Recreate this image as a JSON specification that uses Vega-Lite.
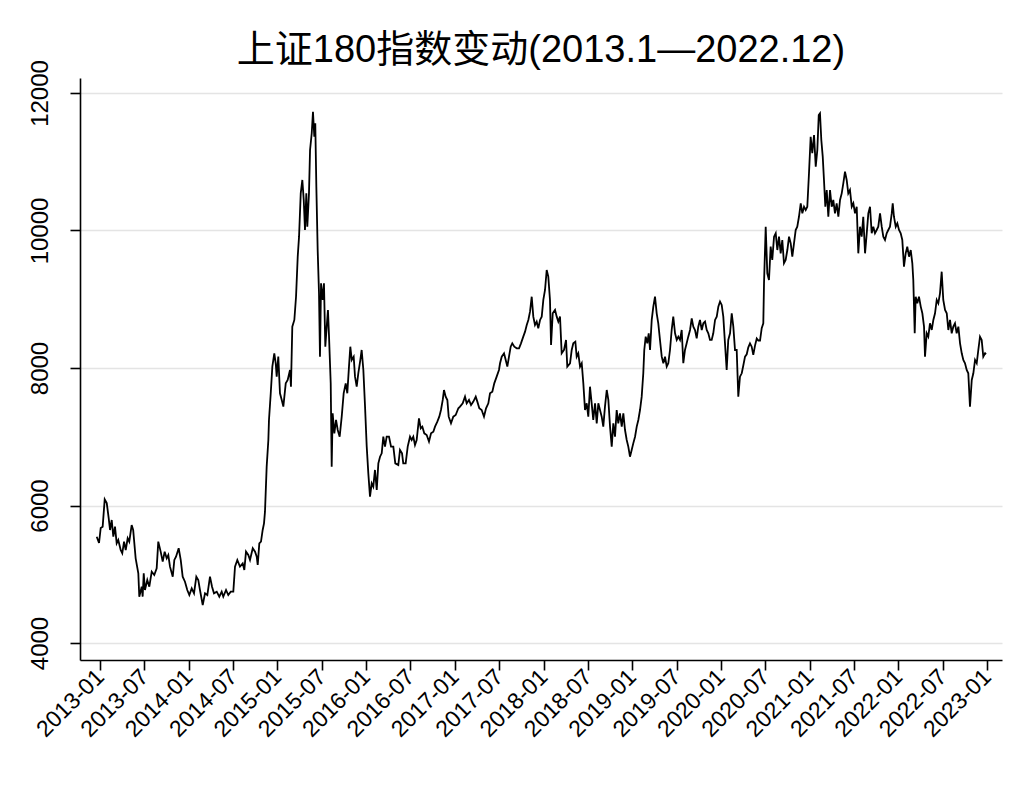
{
  "$schema": "https://vega.github.io/schema/vega-lite/v6.json",
  "width": 922,
  "height": 582,
  "autosize": {"type": "none"},
  "padding": {"left": 80, "top": 78, "right": 30, "bottom": 131},
  "background": "white",
  "title": {
    "text": "上证180指数变动(2013.1—2022.12)",
    "font": "Liberation Sans, Noto Sans CJK SC",
    "fontSize": 38,
    "fontWeight": "normal",
    "color": "#000000",
    "anchor": "middle",
    "frame": "group",
    "offset": -10
  },
  "config": {
    "view": {"stroke": null},
    "axis": {
      "labelFont": "Liberation Sans",
      "labelColor": "#000000",
      "domainColor": "#000000",
      "domainWidth": 1.6,
      "tickColor": "#000000",
      "tickWidth": 1.6,
      "tickSize": 10,
      "gridColor": "#e4e4e4",
      "gridWidth": 1.6,
      "title": null
    }
  },
  "data": {
    "values": [
      {"t":2012.963,"v":5546},{"t":2012.989,"v":5455},{"t":2013.008,"v":5673},{"t":2013.030,"v":5692},{"t":2013.053,"v":6090},{"t":2013.076,"v":6036},{"t":2013.098,"v":5818},{"t":2013.113,"v":5644},{"t":2013.132,"v":5789},{"t":2013.150,"v":5546},{"t":2013.169,"v":5692},{"t":2013.188,"v":5450},{"t":2013.206,"v":5498},{"t":2013.233,"v":5353},{"t":2013.251,"v":5305},{"t":2013.271,"v":5475},{"t":2013.290,"v":5353},{"t":2013.312,"v":5523},{"t":2013.330,"v":5475},{"t":2013.357,"v":5716},{"t":2013.374,"v":5644},{"t":2013.402,"v":5232},{"t":2013.432,"v":5014},{"t":2013.443,"v":4674},{"t":2013.470,"v":4819},{"t":2013.481,"v":4674},{"t":2013.493,"v":5014},{"t":2013.507,"v":4771},{"t":2013.533,"v":4917},{"t":2013.556,"v":4819},{"t":2013.583,"v":5038},{"t":2013.612,"v":4990},{"t":2013.639,"v":5087},{"t":2013.657,"v":5475},{"t":2013.684,"v":5329},{"t":2013.707,"v":5183},{"t":2013.729,"v":5329},{"t":2013.752,"v":5232},{"t":2013.770,"v":5280},{"t":2013.789,"v":5111},{"t":2013.820,"v":4965},{"t":2013.838,"v":5208},{"t":2013.857,"v":5256},{"t":2013.887,"v":5378},{"t":2013.910,"v":5208},{"t":2013.932,"v":4965},{"t":2013.958,"v":4892},{"t":2013.984,"v":4771},
      {"t":2014.007,"v":4698},{"t":2014.034,"v":4795},{"t":2014.060,"v":4723},{"t":2014.086,"v":4965},{"t":2014.108,"v":4917},{"t":2014.127,"v":4771},{"t":2014.158,"v":4553},{"t":2014.184,"v":4723},{"t":2014.210,"v":4698},{"t":2014.240,"v":4965},{"t":2014.263,"v":4819},{"t":2014.285,"v":4723},{"t":2014.316,"v":4747},{"t":2014.345,"v":4674},{"t":2014.372,"v":4747},{"t":2014.390,"v":4674},{"t":2014.421,"v":4771},{"t":2014.446,"v":4698},{"t":2014.474,"v":4747},{"t":2014.503,"v":4747},{"t":2014.522,"v":5111},{"t":2014.548,"v":5208},{"t":2014.578,"v":5111},{"t":2014.609,"v":5159},{"t":2014.627,"v":5062},{"t":2014.646,"v":5329},{"t":2014.672,"v":5280},{"t":2014.691,"v":5208},{"t":2014.722,"v":5378},{"t":2014.748,"v":5329},{"t":2014.767,"v":5256},{"t":2014.778,"v":5135},{"t":2014.796,"v":5450},{"t":2014.815,"v":5475},{"t":2014.834,"v":5644},{"t":2014.849,"v":5741},{"t":2014.860,"v":5910},{"t":2014.879,"v":6565},{"t":2014.898,"v":6953},{"t":2014.905,"v":7244},{"t":2014.925,"v":7632},{"t":2014.943,"v":8020},{"t":2014.965,"v":8214},{"t":2014.981,"v":8069},{"t":2014.992,"v":7874},
      {"t":2015.010,"v":8165},{"t":2015.029,"v":7632},{"t":2015.049,"v":7535},{"t":2015.067,"v":7438},{"t":2015.094,"v":7777},{"t":2015.116,"v":7826},{"t":2015.142,"v":7971},{"t":2015.153,"v":7728},{"t":2015.168,"v":8601},{"t":2015.191,"v":8699},{"t":2015.210,"v":9037},{"t":2015.229,"v":9619},{"t":2015.244,"v":9910},{"t":2015.263,"v":10540},{"t":2015.281,"v":10735},{"t":2015.297,"v":10444},{"t":2015.311,"v":10007},{"t":2015.326,"v":10540},{"t":2015.337,"v":10055},{"t":2015.356,"v":10540},{"t":2015.368,"v":11171},{"t":2015.387,"v":11414},{"t":2015.401,"v":11728},{"t":2015.416,"v":11364},{"t":2015.427,"v":11559},{"t":2015.439,"v":10637},{"t":2015.454,"v":9716},{"t":2015.469,"v":9086},{"t":2015.480,"v":8165},{"t":2015.492,"v":9232},{"t":2015.511,"v":8990},{"t":2015.525,"v":9232},{"t":2015.540,"v":8310},{"t":2015.556,"v":8601},{"t":2015.570,"v":8844},{"t":2015.582,"v":8456},{"t":2015.601,"v":7777},{"t":2015.612,"v":6565},{"t":2015.623,"v":7341},{"t":2015.642,"v":7050},{"t":2015.661,"v":7244},{"t":2015.680,"v":7098},{"t":2015.702,"v":7001},{"t":2015.725,"v":7292},{"t":2015.747,"v":7632},{"t":2015.770,"v":7777},{"t":2015.788,"v":7632},{"t":2015.807,"v":8020},{"t":2015.822,"v":8310},{"t":2015.838,"v":8117},{"t":2015.860,"v":8165},{"t":2015.875,"v":7874},{"t":2015.894,"v":7728},{"t":2015.912,"v":7923},{"t":2015.935,"v":8117},{"t":2015.950,"v":8262},{"t":2015.969,"v":7971},{"t":2015.988,"v":7438},
      {"t":2016.007,"v":6856},{"t":2016.025,"v":6468},{"t":2016.044,"v":6129},{"t":2016.063,"v":6323},{"t":2016.081,"v":6274},{"t":2016.100,"v":6517},{"t":2016.120,"v":6226},{"t":2016.138,"v":6613},{"t":2016.157,"v":6710},{"t":2016.176,"v":6759},{"t":2016.194,"v":7001},{"t":2016.213,"v":6856},{"t":2016.232,"v":7001},{"t":2016.258,"v":7001},{"t":2016.281,"v":6856},{"t":2016.307,"v":6856},{"t":2016.329,"v":6613},{"t":2016.363,"v":6589},{"t":2016.382,"v":6808},{"t":2016.405,"v":6759},{"t":2016.419,"v":6613},{"t":2016.446,"v":6613},{"t":2016.469,"v":6856},{"t":2016.495,"v":7001},{"t":2016.514,"v":6953},{"t":2016.532,"v":7001},{"t":2016.551,"v":6880},{"t":2016.570,"v":6953},{"t":2016.596,"v":7268},{"t":2016.616,"v":7123},{"t":2016.634,"v":7147},{"t":2016.656,"v":7050},{"t":2016.683,"v":7026},{"t":2016.709,"v":6929},{"t":2016.732,"v":7050},{"t":2016.758,"v":7074},{"t":2016.777,"v":7147},{"t":2016.803,"v":7220},{"t":2016.825,"v":7292},{"t":2016.844,"v":7389},{"t":2016.864,"v":7535},{"t":2016.878,"v":7680},{"t":2016.897,"v":7583},{"t":2016.916,"v":7535},{"t":2016.931,"v":7292},{"t":2016.957,"v":7195},{"t":2016.983,"v":7292},
      {"t":2017.010,"v":7316},{"t":2017.040,"v":7414},{"t":2017.059,"v":7438},{"t":2017.089,"v":7486},{"t":2017.115,"v":7583},{"t":2017.134,"v":7486},{"t":2017.160,"v":7535},{"t":2017.183,"v":7462},{"t":2017.209,"v":7511},{"t":2017.236,"v":7583},{"t":2017.254,"v":7511},{"t":2017.276,"v":7414},{"t":2017.303,"v":7389},{"t":2017.329,"v":7292},{"t":2017.352,"v":7414},{"t":2017.378,"v":7486},{"t":2017.397,"v":7632},{"t":2017.423,"v":7656},{"t":2017.445,"v":7777},{"t":2017.472,"v":7874},{"t":2017.498,"v":7971},{"t":2017.510,"v":8069},{"t":2017.529,"v":8165},{"t":2017.555,"v":8214},{"t":2017.574,"v":8117},{"t":2017.592,"v":8020},{"t":2017.611,"v":8165},{"t":2017.630,"v":8310},{"t":2017.648,"v":8359},{"t":2017.671,"v":8310},{"t":2017.698,"v":8286},{"t":2017.724,"v":8286},{"t":2017.746,"v":8359},{"t":2017.772,"v":8456},{"t":2017.792,"v":8529},{"t":2017.811,"v":8625},{"t":2017.829,"v":8699},{"t":2017.848,"v":8820},{"t":2017.867,"v":9037},{"t":2017.885,"v":8747},{"t":2017.904,"v":8625},{"t":2017.923,"v":8674},{"t":2017.941,"v":8577},{"t":2017.961,"v":8699},{"t":2017.980,"v":8747},{"t":2017.998,"v":8990},
      {"t":2018.017,"v":9135},{"t":2018.036,"v":9426},{"t":2018.054,"v":9329},{"t":2018.073,"v":8990},{"t":2018.085,"v":8335},{"t":2018.104,"v":8796},{"t":2018.130,"v":8844},{"t":2018.149,"v":8747},{"t":2018.167,"v":8674},{"t":2018.186,"v":8747},{"t":2018.205,"v":8214},{"t":2018.231,"v":8262},{"t":2018.254,"v":8408},{"t":2018.268,"v":8020},{"t":2018.299,"v":8069},{"t":2018.318,"v":8262},{"t":2018.336,"v":8359},{"t":2018.359,"v":8383},{"t":2018.374,"v":8165},{"t":2018.392,"v":8214},{"t":2018.412,"v":8020},{"t":2018.431,"v":8069},{"t":2018.449,"v":7777},{"t":2018.468,"v":7389},{"t":2018.487,"v":7486},{"t":2018.505,"v":7292},{"t":2018.524,"v":7728},{"t":2018.543,"v":7486},{"t":2018.561,"v":7244},{"t":2018.581,"v":7486},{"t":2018.600,"v":7195},{"t":2018.618,"v":7486},{"t":2018.637,"v":7389},{"t":2018.656,"v":7292},{"t":2018.674,"v":7147},{"t":2018.693,"v":7438},{"t":2018.713,"v":7680},{"t":2018.731,"v":7535},{"t":2018.750,"v":7147},{"t":2018.769,"v":6856},{"t":2018.787,"v":7195},{"t":2018.806,"v":7001},{"t":2018.825,"v":7389},{"t":2018.843,"v":7195},{"t":2018.862,"v":7341},{"t":2018.882,"v":7147},{"t":2018.900,"v":7341},{"t":2018.919,"v":7098},{"t":2018.938,"v":6953},{"t":2018.956,"v":6856},{"t":2018.975,"v":6710},{"t":2018.994,"v":6808},
      {"t":2019.012,"v":6904},{"t":2019.032,"v":7001},{"t":2019.051,"v":7147},{"t":2019.069,"v":7244},{"t":2019.088,"v":7389},{"t":2019.107,"v":7583},{"t":2019.125,"v":7923},{"t":2019.136,"v":8262},{"t":2019.152,"v":8456},{"t":2019.170,"v":8359},{"t":2019.186,"v":8505},{"t":2019.201,"v":8262},{"t":2019.220,"v":8699},{"t":2019.238,"v":8893},{"t":2019.257,"v":9037},{"t":2019.276,"v":8796},{"t":2019.294,"v":8650},{"t":2019.313,"v":8408},{"t":2019.333,"v":8165},{"t":2019.351,"v":8069},{"t":2019.370,"v":8165},{"t":2019.389,"v":8020},{"t":2019.407,"v":8069},{"t":2019.426,"v":8262},{"t":2019.445,"v":8553},{"t":2019.463,"v":8747},{"t":2019.483,"v":8505},{"t":2019.502,"v":8408},{"t":2019.520,"v":8456},{"t":2019.539,"v":8408},{"t":2019.558,"v":8553},{"t":2019.576,"v":8069},{"t":2019.595,"v":8262},{"t":2019.614,"v":8359},{"t":2019.632,"v":8456},{"t":2019.652,"v":8553},{"t":2019.671,"v":8723},{"t":2019.689,"v":8601},{"t":2019.708,"v":8553},{"t":2019.727,"v":8432},{"t":2019.745,"v":8601},{"t":2019.764,"v":8699},{"t":2019.784,"v":8553},{"t":2019.802,"v":8650},{"t":2019.821,"v":8674},{"t":2019.840,"v":8553},{"t":2019.858,"v":8505},{"t":2019.877,"v":8408},{"t":2019.896,"v":8408},{"t":2019.914,"v":8505},{"t":2019.934,"v":8699},{"t":2019.953,"v":8747},{"t":2019.971,"v":8893},{"t":2019.990,"v":8966},
      {"t":2020.009,"v":8917},{"t":2020.027,"v":8747},{"t":2020.046,"v":8359},{"t":2020.065,"v":7971},{"t":2020.083,"v":8408},{"t":2020.103,"v":8505},{"t":2020.122,"v":8796},{"t":2020.140,"v":8601},{"t":2020.159,"v":8262},{"t":2020.178,"v":8262},{"t":2020.196,"v":7583},{"t":2020.215,"v":7874},{"t":2020.235,"v":7923},{"t":2020.253,"v":8040},{"t":2020.272,"v":8165},{"t":2020.291,"v":8200},{"t":2020.309,"v":8300},{"t":2020.328,"v":8359},{"t":2020.347,"v":8310},{"t":2020.365,"v":8190},{"t":2020.385,"v":8330},{"t":2020.404,"v":8430},{"t":2020.422,"v":8400},{"t":2020.441,"v":8400},{"t":2020.460,"v":8580},{"t":2020.478,"v":8650},{"t":2020.486,"v":9232},{"t":2020.505,"v":10055},{"t":2020.523,"v":9377},{"t":2020.542,"v":9280},{"t":2020.561,"v":9765},{"t":2020.579,"v":9571},{"t":2020.599,"v":9910},{"t":2020.618,"v":9959},{"t":2020.636,"v":9716},{"t":2020.655,"v":9910},{"t":2020.674,"v":9668},{"t":2020.692,"v":9862},{"t":2020.711,"v":9523},{"t":2020.730,"v":9571},{"t":2020.749,"v":9716},{"t":2020.768,"v":9910},{"t":2020.787,"v":9813},{"t":2020.805,"v":9619},{"t":2020.824,"v":9813},{"t":2020.843,"v":10007},{"t":2020.861,"v":10055},{"t":2020.880,"v":10200},{"t":2020.900,"v":10395},{"t":2020.918,"v":10249},{"t":2020.937,"v":10346},{"t":2020.956,"v":10298},{"t":2020.974,"v":10346},{"t":2020.993,"v":10832},
      {"t":2021.012,"v":11364},{"t":2021.030,"v":11123},{"t":2021.050,"v":11389},{"t":2021.069,"v":10929},{"t":2021.087,"v":11171},{"t":2021.103,"v":11680},{"t":2021.117,"v":11705},{"t":2021.132,"v":11316},{"t":2021.148,"v":11074},{"t":2021.162,"v":10735},{"t":2021.177,"v":10346},{"t":2021.193,"v":10589},{"t":2021.211,"v":10200},{"t":2021.230,"v":10589},{"t":2021.249,"v":10346},{"t":2021.267,"v":10444},{"t":2021.286,"v":10249},{"t":2021.305,"v":10395},{"t":2021.324,"v":10200},{"t":2021.343,"v":10444},{"t":2021.362,"v":10540},{"t":2021.380,"v":10686},{"t":2021.399,"v":10856},{"t":2021.418,"v":10735},{"t":2021.436,"v":10540},{"t":2021.455,"v":10589},{"t":2021.475,"v":10346},{"t":2021.493,"v":10395},{"t":2021.512,"v":10249},{"t":2021.531,"v":10346},{"t":2021.549,"v":9668},{"t":2021.568,"v":10055},{"t":2021.587,"v":9910},{"t":2021.605,"v":10200},{"t":2021.625,"v":9668},{"t":2021.644,"v":9959},{"t":2021.662,"v":10249},{"t":2021.681,"v":10346},{"t":2021.700,"v":9959},{"t":2021.718,"v":10055},{"t":2021.737,"v":9959},{"t":2021.756,"v":10007},{"t":2021.774,"v":10055},{"t":2021.794,"v":10249},{"t":2021.813,"v":10055},{"t":2021.831,"v":9910},{"t":2021.850,"v":9862},{"t":2021.869,"v":9959},{"t":2021.887,"v":10007},{"t":2021.906,"v":10055},{"t":2021.926,"v":10249},{"t":2021.937,"v":10395},{"t":2021.951,"v":10200},{"t":2021.971,"v":10055},{"t":2021.989,"v":10104},
      {"t":2022.008,"v":10007},{"t":2022.027,"v":9959},{"t":2022.045,"v":9862},{"t":2022.064,"v":9474},{"t":2022.083,"v":9668},{"t":2022.101,"v":9765},{"t":2022.121,"v":9619},{"t":2022.140,"v":9716},{"t":2022.158,"v":9523},{"t":2022.169,"v":9280},{"t":2022.185,"v":8505},{"t":2022.196,"v":9037},{"t":2022.214,"v":8941},{"t":2022.233,"v":9037},{"t":2022.253,"v":8893},{"t":2022.271,"v":8796},{"t":2022.290,"v":8601},{"t":2022.301,"v":8165},{"t":2022.320,"v":8505},{"t":2022.338,"v":8456},{"t":2022.357,"v":8650},{"t":2022.377,"v":8553},{"t":2022.395,"v":8699},{"t":2022.414,"v":8796},{"t":2022.433,"v":8990},{"t":2022.451,"v":8941},{"t":2022.470,"v":9086},{"t":2022.489,"v":9401},{"t":2022.507,"v":8990},{"t":2022.527,"v":8844},{"t":2022.546,"v":8796},{"t":2022.564,"v":8553},{"t":2022.583,"v":8699},{"t":2022.602,"v":8505},{"t":2022.620,"v":8601},{"t":2022.639,"v":8650},{"t":2022.658,"v":8505},{"t":2022.677,"v":8601},{"t":2022.696,"v":8359},{"t":2022.715,"v":8214},{"t":2022.733,"v":8117},{"t":2022.752,"v":8069},{"t":2022.771,"v":7971},{"t":2022.789,"v":7923},{"t":2022.808,"v":7438},{"t":2022.828,"v":7826},{"t":2022.846,"v":7923},{"t":2022.865,"v":8117},{"t":2022.884,"v":8069},{"t":2022.902,"v":8262},{"t":2022.921,"v":8456},{"t":2022.940,"v":8408},{"t":2022.958,"v":8165},{"t":2022.978,"v":8214},{"t":2022.989,"v":8200}
    ]
  },
  "mark": {"type": "line", "color": "#000000", "strokeWidth": 1.8, "clip": true},
  "encoding": {
    "x": {
      "field": "t",
      "type": "quantitative",
      "scale": {"domain": [2012.7745, 2023.169], "nice": false, "zero": false},
      "axis": {
        "values": [2013, 2013.5, 2014, 2014.5, 2015, 2015.5, 2016, 2016.5, 2017, 2017.5, 2018, 2018.5, 2019, 2019.5, 2020, 2020.5, 2021, 2021.5, 2022, 2022.5, 2023],
        "labelExpr": "floor(datum.value) + (datum.value % 1 ? '-07' : '-01')",
        "labelAngle": -45,
        "labelAlign": "right",
        "labelBaseline": "middle",
        "labelFontSize": 23,
        "labelPadding": 3,
        "labelOverlap": false,
        "labelFlush": false,
        "grid": false
      }
    },
    "y": {
      "field": "v",
      "type": "quantitative",
      "scale": {"domain": [3753, 12218], "nice": false, "zero": false},
      "axis": {
        "values": [4000, 6000, 8000, 10000, 12000],
        "format": "d",
        "labelAngle": -90,
        "labelAlign": "center",
        "labelBaseline": "bottom",
        "labelFontSize": 24,
        "labelPadding": 18,
        "labelOverlap": false,
        "labelFlush": false,
        "grid": true
      }
    }
  }
}
